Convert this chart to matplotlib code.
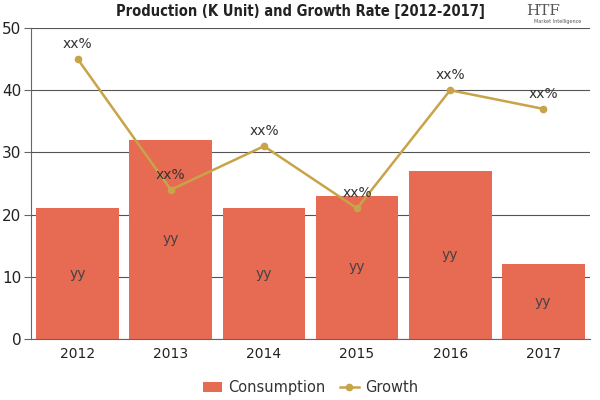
import matplotlib
matplotlib.use("Agg")
import matplotlib.pyplot as plt
import numpy as np

years = ["2012", "2013", "2014", "2015", "2016", "2017"]
consumption = [21, 32, 21, 23, 27, 12]
growth = [45, 24, 31, 21, 40, 37]
bar_labels = ["yy"] * 6
line_labels = ["xx%"] * 6

bar_color = "#E76A52"
line_color = "#C8A449"

fig = plt.figure(figsize=(6, 4), dpi=100)
ax = fig.add_axes([0.052, 0.1525, 0.931, 0.7775])
x = np.arange(len(years))
bars = ax.bar(x, consumption, width=0.89, color=bar_color, zorder=2, label="Consumption")
line, = ax.plot(x, growth, color=line_color, marker="o", markersize=4.5, linewidth=1.8, zorder=3, label="Growth")

for xi, v, t in zip(x, consumption, bar_labels):
    ax.text(xi, v / 2, t, ha="center", va="center", fontsize=10, color="#444444", zorder=4)
for xi, v, t in zip(x, growth, line_labels):
    ax.text(xi, v + 1.3, t, ha="center", va="bottom", fontsize=10, color="#333333", zorder=4)

ax.set_xlim(-0.5, len(years) - 0.5)
ax.set_ylim(0, 50)
ax.set_yticks([0, 10, 20, 30, 40, 50])
ax.set_xticks(x)
ax.set_xticklabels(years)
ax.yaxis.grid(True, color="#555555", linewidth=0.8, zorder=0)
ax.set_axisbelow(True)
for s in ["top", "right"]:
    ax.spines[s].set_visible(False)
ax.spines["left"].set_color("#666666")
ax.spines["bottom"].set_color("#666666")
ax.tick_params(axis="y", length=5, color="#666666", labelsize=11, pad=2, labelcolor="#222222")
ax.tick_params(axis="x", length=0, labelsize=10, pad=6, labelcolor="#222222")

fig.text(0.5, 0.972, "Production (K Unit) and Growth Rate [2012-2017]", ha="center", va="center",
         fontsize=10.5, fontweight="heavy", family="DejaVu Sans", fontstretch="condensed", color="#222222")
fig.text(0.905, 0.972, "HTF", ha="center", va="center", fontsize=11, color="#555555", family="DejaVu Serif")
fig.text(0.93, 0.947, "Market Intelligence", ha="center", va="center", fontsize=3.5, color="#555555")

ax.legend([bars, line], ["Consumption", "Growth"], loc="upper center", bbox_to_anchor=(0.5, -0.09),
          ncol=2, frameon=False, fontsize=10.5, handlelength=1.3, columnspacing=1.0, handletextpad=0.4,
          labelcolor="#333333")

fig.savefig("out.png", dpi=100)
